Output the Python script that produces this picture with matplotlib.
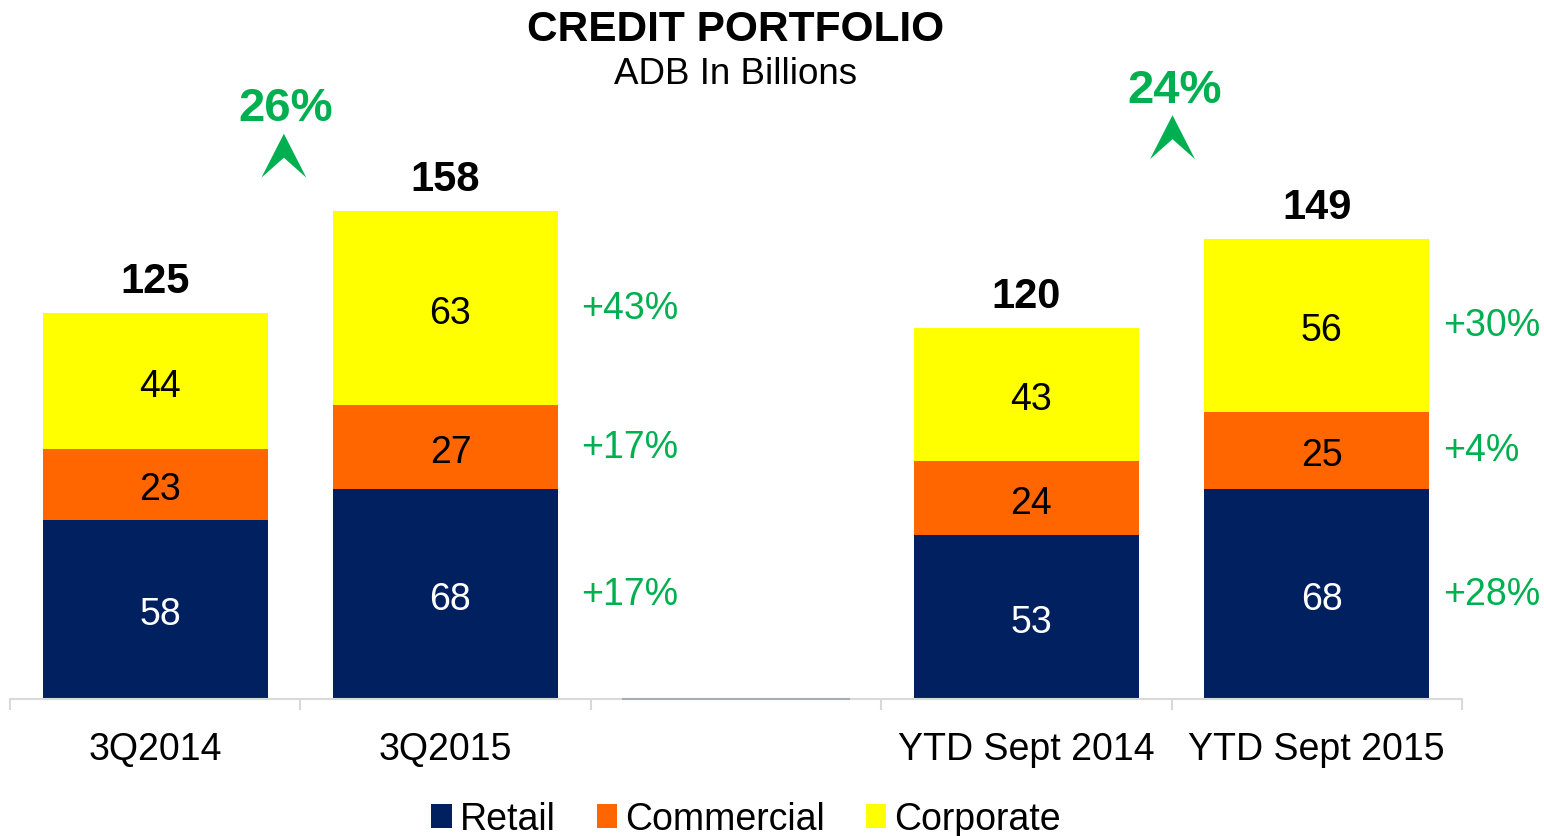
import matplotlib
matplotlib.use("Agg")
import matplotlib.pyplot as plt
import numpy as np
from matplotlib.patches import Polygon, Patch
from matplotlib.transforms import ScaledTranslation

plt.rcParams['font.family'] = ['Liberation Sans', 'DejaVu Sans']

categories = ["3Q2014", "3Q2015", "", "YTD Sept 2014", "YTD Sept 2015"]
retail = [58, 68, 0, 53, 68]
commercial = [23, 27, 0, 24, 25]
corporate = [44, 63, 0, 43, 56]
totals = [125, 158, None, 120, 149]
series_names = ["Retail", "Commercial", "Corporate"]
growth_labels = {1: ["+17%", "+17%", "+43%"], 4: ["+28%", "+4%", "+30%"]}
headline_growth = [("26%", 0.45, 192), ("24%", 3.51, 198)]

C_NAVY = "#002060"
C_ORANGE = "#FF6600"
C_YELLOW = "#FFFF00"
C_GREEN = "#00B050"
colors = [C_NAVY, C_ORANGE, C_YELLOW]

W, H, DPI = 1544, 837, 100
fig = plt.figure(figsize=(W / DPI, H / DPI), dpi=DPI)
ax_bottom = 137 / H
ax = fig.add_axes([10 / W, ax_bottom, 1452 / W, 1 - ax_bottom])
ymax = 700 / 3.09
ax.set_ylim(0, ymax)
ax.set_xlim(-0.5, 4.5)

x = np.arange(len(categories))
bw = 0.775
bottoms = np.zeros(len(categories))
for vals, col, name in zip([retail, commercial, corporate], colors, series_names):
    vals = np.array(vals, dtype=float)
    ax.bar(x, vals, bw, bottom=bottoms, color=col, label=name, zorder=2)
    for i, v in enumerate(vals):
        if v > 0:
            ax.annotate(f"{int(v)}", (x[i], bottoms[i] + v / 2), xytext=(3.5, -3.5),
                        textcoords="offset points", ha="center", va="center",
                        fontsize=27, color="white" if col == C_NAVY else "black", zorder=3)
    bottoms += vals

for i, t in enumerate(totals):
    if t is not None:
        ax.annotate(f"{t}", (x[i], t), xytext=(0, 15), textcoords="offset points",
                    ha="center", va="baseline", fontsize=30, fontweight="bold")

# growth labels next to bars
offsets = {1: 0.468, 4: 0.435}
for i, labs in growth_labels.items():
    b = 0
    segs = [retail[i], commercial[i], corporate[i]]
    for lab, s in zip(labs, segs):
        ax.text(x[i] + offsets[i], b + s / 2, lab, ha="left", va="center",
                fontsize=27, color=C_GREEN)
        b += s

# headline growth with arrows
for lab, xx, yy in headline_growth:
    ax.annotate(lab, (xx, yy), xytext=(0, -2), textcoords="offset points",
                ha="center", va="center", fontsize=34,
                fontweight="bold", color=C_GREEN, annotation_clip=False)
    tr = fig.dpi_scale_trans + ScaledTranslation(xx, yy, ax.transData)
    shape = np.array([[-0.02, -0.28], [-0.245, -0.72], [-0.02, -0.52], [0.205, -0.72]])
    ax.add_patch(Polygon(shape, closed=True, transform=tr, facecolor=C_GREEN,
                         edgecolor="none", clip_on=False))

# empty slot baseline
ax.plot([2 - bw / 2, 2 + bw / 2], [0, 0], color="#A6AEB5", lw=1.5, zorder=3, clip_on=False)

# axes styling
for sp in ["top", "right", "left"]:
    ax.spines[sp].set_visible(False)
ax.spines["bottom"].set_color("#D9D9D9")
ax.spines["bottom"].set_linewidth(1.5)
ax.set_yticks([])
ax.set_xticks(x)
ax.set_xticklabels(categories, fontsize=27)
ax.tick_params(axis="x", which="major", length=0, pad=23)
ax.set_xticks(np.arange(-0.5, 5, 1), minor=True)
ax.tick_params(axis="x", which="minor", length=8, color="#D9D9D9", width=1.5)

fig.text(736 / W, 1 - 30 / H, "CREDIT PORTFOLIO", ha="center", va="center",
         fontsize=30.5, fontweight="bold")
fig.text(736 / W, 1 - 75 / H, "ADB In Billions", ha="center", va="center", fontsize=26.5)

handles = [Patch(facecolor=c, edgecolor="none") for c in colors]
fig.legend(handles, series_names, loc="center", bbox_to_anchor=(746 / W, 1 - 820 / H),
           ncol=3, frameon=False, fontsize=27, handlelength=0.55, handleheight=0.6,
           handletextpad=0.2, columnspacing=1.1, borderpad=0)

fig.savefig("out.png", dpi=DPI)
